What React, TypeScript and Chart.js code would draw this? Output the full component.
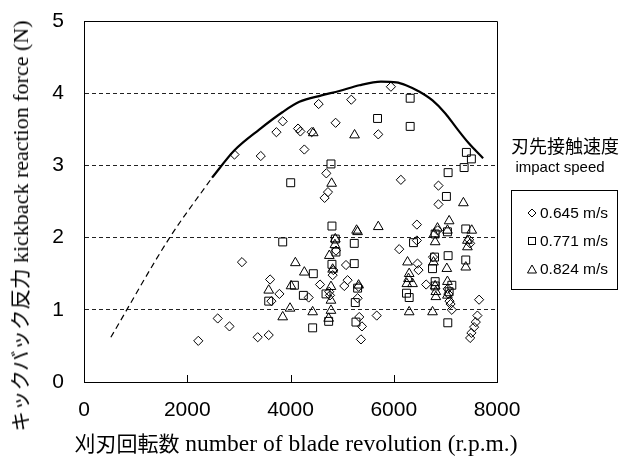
import React, { useEffect, useRef } from 'react';
import { Chart, registerables } from 'chart.js';

Chart.register(...registerables);

const xTickValues = [0, 2000, 4000, 6000, 8000];
const yTickValues = [0, 1, 2, 3, 4, 5];
const seriesLabels = ['0.645 m/s', '0.771 m/s', '0.824 m/s'];
const legendTitle = '刃先接触速度';
const legendSubtitle = 'impact speed';
const xTitleJa = '刈刃回転数';
const xTitleEn = 'number of blade revolution (r.p.m.)';
const yTitleJa = 'キックバック反力';
const yTitleEn = 'kickback reaction force (N)';

const diamondPts: number[][] = [
  [2214, 0.57], [2590, 0.88], [2818, 0.77], [2915, 3.15], [3060, 1.66], [3365, 0.62],
  [3424, 3.13], [3578, 0.65], [3605, 1.42], [3630, 1.12], [3727, 3.46], [3785, 1.22],
  [3849, 3.61], [4146, 3.51], [4191, 3.47], [4268, 3.22], [4352, 1.17], [4410, 3.46],
  [4545, 3.85], [4572, 1.35], [4661, 2.55], [4694, 2.89], [4726, 2.63], [4750, 1.25],
  [4765, 1.2], [4816, 1.48], [4830, 1.55], [4874, 3.59], [4881, 1.82], [5042, 1.33],
  [5075, 1.62], [5106, 1.41], [5177, 3.91], [5300, 1.16], [5319, 1.32], [5332, 0.9],
  [5384, 0.77], [5365, 0.59], [5670, 0.92], [5700, 3.43], [5945, 4.09], [6106, 1.84],
  [6138, 2.8], [6448, 2.18], [6448, 1.96], [6460, 1.64], [6479, 1.55], [6628, 1.35],
  [6760, 1.73], [6866, 2.72], [6866, 2.46], [6850, 2.1], [7045, 1.29], [7057, 1.22],
  [7080, 1.12], [7100, 1.08], [7125, 1.0], [7460, 1.97], [7480, 1.92], [7480, 0.61],
  [7504, 0.68], [7556, 0.76], [7589, 0.83], [7620, 0.92], [7653, 1.14],
];

const squarePts: number[][] = [
  [3578, 1.12], [3849, 1.94], [4004, 2.76], [4075, 1.34], [4249, 1.2], [4442, 1.5],
  [4429, 0.75], [4688, 1.22], [4739, 0.84], [4784, 3.02], [4803, 1.63], [4803, 2.16],
  [4868, 1.98], [4881, 1.8], [5235, 1.92], [5235, 1.64], [5255, 1.1], [5268, 0.83],
  [5300, 1.3], [5686, 3.65], [6247, 1.23], [6299, 1.17], [6318, 3.93], [6318, 3.54],
  [6383, 1.93], [6751, 1.57], [6802, 2.05], [6790, 1.73], [6802, 1.39], [6802, 1.33],
  [7020, 2.57], [7047, 0.82], [7053, 2.9], [7053, 1.75], [7040, 2.08], [7073, 1.25],
  [7125, 1.34], [7363, 2.97], [7395, 2.12], [7395, 1.69], [7407, 3.18], [7504, 3.09],
];

const trianglePts: number[][] = [
  [3578, 1.27], [3849, 0.9], [3991, 1.02], [4011, 1.33], [4094, 1.65], [4268, 1.52],
  [4429, 0.97], [4440, 3.45], [4739, 0.88], [4784, 0.99], [4752, 1.75], [4784, 1.32],
  [4784, 1.13], [4797, 2.75], [4816, 1.56], [4868, 1.98], [4860, 1.9], [5241, 3.42],
  [5280, 2.1], [5300, 2.08], [5319, 1.34], [5700, 2.15], [6254, 1.36], [6364, 1.36],
  [6286, 1.43], [6299, 1.5], [6267, 1.66], [6299, 0.97], [6770, 1.66], [6751, 0.97],
  [6802, 1.94], [6783, 2.05], [6847, 2.13], [6802, 1.33], [6815, 1.25], [6815, 1.18],
  [7028, 1.57], [7040, 1.39], [7040, 1.2], [7040, 2.1], [7073, 2.23], [7349, 2.48],
  [7395, 1.59], [7427, 1.87], [7427, 1.96], [7511, 2.1],
];

const envelopeSolid: number[][] = [
  [2480, 2.83], [2915, 3.21], [3400, 3.5], [3849, 3.74], [4172, 3.88], [4600, 3.97],
  [4946, 4.03], [5332, 4.11], [5752, 4.16], [6050, 4.15], [6236, 4.11], [6500, 4.02],
  [6751, 3.9], [7000, 3.72], [7203, 3.53], [7450, 3.31], [7731, 3.1],
];

const envelopeDashed: number[][] = [
  [520, 0.62], [1660, 2.0], [2480, 2.83],
];

const toXY = (arr: number[][]) => arr.map(([x, y]) => ({ x, y }));

const framePlugin = {
  id: 'frameTicks',
  afterDraw(chart: any) {
    const { ctx, chartArea } = chart;
    const xs = chart.scales.x;
    ctx.save();
    ctx.strokeStyle = '#000';
    ctx.lineWidth = 1;
    ctx.beginPath();
    const l = Math.round(chartArea.left) + 0.5;
    const r = Math.round(chartArea.right) + 0.5;
    const t = Math.round(chartArea.top) + 0.5;
    const b = Math.round(chartArea.bottom);
    ctx.moveTo(l, t);
    ctx.lineTo(r, t);
    ctx.lineTo(r, b);
    xTickValues.forEach((v) => {
      if (v > 0 && v < 8000) {
        const px = Math.round(xs.getPixelForValue(v)) + 0.5;
        ctx.moveTo(px, b);
        ctx.lineTo(px, b - 7);
      }
    });
    ctx.stroke();
    ctx.restore();
  },
};

const Marker = ({ kind }: { kind: string }) => (
  <svg width="10" height="10" style={{ display: 'block' }}>
    {kind === 'diamond' && <polygon points="5,1 9,5 5,9 1,5" fill="none" stroke="#000" strokeWidth="1" />}
    {kind === 'square' && <rect x="1.5" y="1.5" width="7" height="7" fill="none" stroke="#000" strokeWidth="1" />}
    {kind === 'triangle' && <polygon points="5,1 9.5,9 0.5,9" fill="none" stroke="#000" strokeWidth="1" />}
  </svg>
);

export default function App() {
  const canvasRef = useRef<HTMLCanvasElement>(null);

  useEffect(() => {
    if (!canvasRef.current) return;
    const tickFont = { family: "'Liberation Sans', Arial, sans-serif", size: 21 };
    const pointBase = {
      showLine: false,
      backgroundColor: 'rgba(0,0,0,0)',
      borderColor: '#000',
      borderWidth: 1,
    };
    const chart = new Chart(canvasRef.current, {
      type: 'scatter',
      data: {
        datasets: [
          { ...pointBase, label: seriesLabels[0], data: toXY(diamondPts), pointStyle: 'rectRot', pointRadius: 4.6 },
          { ...pointBase, label: seriesLabels[1], data: toXY(squarePts), pointStyle: 'rect', pointRadius: 5.6 },
          { ...pointBase, label: seriesLabels[2], data: toXY(trianglePts), pointStyle: 'triangle', pointRadius: 5.6 },
          {
            label: 'envelope',
            data: toXY(envelopeSolid),
            showLine: true,
            pointRadius: 0,
            borderColor: '#000',
            borderWidth: 2.2,
            cubicInterpolationMode: 'monotone',
            fill: false,
          } as any,
          {
            label: 'envelope-dashed',
            data: toXY(envelopeDashed),
            showLine: true,
            pointRadius: 0,
            borderColor: '#000',
            borderWidth: 1.2,
            borderDash: [6, 4],
            cubicInterpolationMode: 'monotone',
            fill: false,
          } as any,
        ],
      },
      options: {
        animation: false,
        responsive: false,
        events: [],
        layout: { padding: { left: 0, right: 133, top: 21, bottom: 0 } },
        plugins: { legend: { display: false }, tooltip: { enabled: false } },
        scales: {
          x: {
            type: 'linear',
            min: 0,
            max: 8000,
            afterBuildTicks: (s: any) => { s.ticks = xTickValues.map((v) => ({ value: v })); },
            afterFit: (s: any) => {
              s.height = 82;
              s.paddingLeft = 0; s.paddingRight = 0; s.paddingTop = 0; s.paddingBottom = 0;
            },
            ticks: { font: tickFont, color: '#000', padding: 16, maxRotation: 0, callback: (v: any) => String(v) },
            grid: { display: false, drawTicks: false },
            border: { display: true, color: '#000', width: 1 },
          },
          y: {
            type: 'linear',
            min: 0,
            max: 5,
            afterBuildTicks: (s: any) => { s.ticks = yTickValues.map((v) => ({ value: v })); },
            afterFit: (s: any) => {
              s.width = 84;
              s.paddingLeft = 0; s.paddingRight = 0; s.paddingTop = 0; s.paddingBottom = 0;
            },
            ticks: { font: tickFont, color: '#000', padding: 20, callback: (v: any) => String(v) },
            grid: {
              drawTicks: false,
              color: (c: any) => (c.tick && c.tick.value > 0 && c.tick.value < 5 ? '#222' : 'rgba(0,0,0,0)'),
              lineWidth: 1,
            },
            border: { display: true, color: '#000', width: 1, dash: [4, 3] },
          },
        },
      } as any,
      plugins: [framePlugin],
    });
    return () => chart.destroy();
  }, []);

  const serif = "'Liberation Serif', serif";
  const cjk = "'Noto Sans CJK JP', sans-serif";
  const sans = "'Liberation Sans', Arial, 'Noto Sans CJK JP', sans-serif";
  const kinds = ['diamond', 'square', 'triangle'];

  return (
    <div style={{ position: 'fixed', left: 0, top: 0, width: 630, height: 464, background: '#fff', color: '#000' }}>
      <canvas ref={canvasRef} width={630} height={464} style={{ position: 'absolute', left: 0, top: 0, width: 630, height: 464 }} />
      <div
        style={{
          position: 'absolute', left: 21, top: 226, transform: 'translate(-50%, -50%) rotate(-90deg)',
          whiteSpace: 'nowrap', lineHeight: '26px',
        }}
      >
        <span style={{ fontFamily: cjk, fontSize: 20.5 }}>{yTitleJa}</span>
        <span style={{ fontFamily: serif, fontSize: 22 }}> {yTitleEn}</span>
      </div>
      <div
        style={{
          position: 'absolute', left: 296, top: 444, transform: 'translate(-50%, -50%)',
          whiteSpace: 'nowrap', lineHeight: '28px',
        }}
      >
        <span style={{ fontFamily: cjk, fontSize: 21 }}>{xTitleJa}</span>
        <span style={{ fontFamily: serif, fontSize: 23.5 }}> {xTitleEn}</span>
      </div>
      <div
        style={{
          position: 'absolute', left: 565, top: 145, transform: 'translate(-50%, -50%)',
          whiteSpace: 'nowrap', fontFamily: cjk, fontSize: 18, lineHeight: '22px',
        }}
      >
        {legendTitle}
      </div>
      <div
        style={{
          position: 'absolute', left: 560, top: 167, transform: 'translate(-50%, -50%)',
          whiteSpace: 'nowrap', fontFamily: sans, fontSize: 15, lineHeight: '18px',
        }}
      >
        {legendSubtitle}
      </div>
      <div
        style={{
          position: 'absolute', left: 511, top: 190, width: 105, height: 98,
          border: '1px solid #000', boxSizing: 'content-box',
        }}
      >
        {seriesLabels.map((lab, i) => (
          <div
            key={lab}
            style={{
              position: 'absolute', left: 15, top: 22 + i * 28 - 10, height: 20,
              display: 'flex', alignItems: 'center', whiteSpace: 'nowrap',
              fontFamily: sans, fontSize: 15.5,
            }}
          >
            <Marker kind={kinds[i]} />
            <span style={{ marginLeft: 3 }}>{lab}</span>
          </div>
        ))}
      </div>
    </div>
  );
}
